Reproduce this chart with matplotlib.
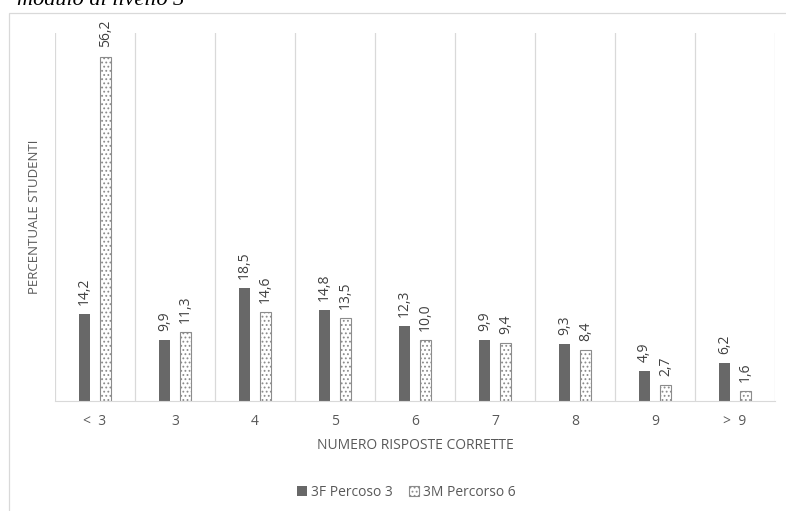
import matplotlib.pyplot as plt
from matplotlib.patches import Rectangle
import numpy as np

# categorie e valori (percentuali)
categorie = ['<  3', '3', '4', '5', '6', '7', '8', '9', '>  9']
percorso3 = [14.2, 9.9, 18.5, 14.8, 12.3, 9.9, 9.3, 4.9, 6.2]
percorso6 = [56.2, 11.3, 14.6, 13.5, 10.0, 9.4, 8.4, 2.7, 1.6]
serie = ['3F Percoso 3', '3M Percorso 6']

plt.rcParams['font.family'] = ['Open Sans', 'DejaVu Sans']
plt.rcParams['hatch.color'] = '#8c8c8c'
plt.rcParams['hatch.linewidth'] = 0.8
testo = '#595959'

fig = plt.figure(figsize=(7.86, 5.11), dpi=100)
ax = fig.add_axes([0.070, 0.215, 0.916, 0.72])

x = np.arange(len(categorie))
w = 0.14
b1 = ax.bar(x - 0.13, percorso3, w, color='#686868', label=serie[0])
b2 = ax.bar(x + 0.13, percorso6, w, color='white', edgecolor='#8c8c8c',
            hatch='....', linewidth=0.8, label=serie[1])

for barre, valori in ((b1, percorso3), (b2, percorso6)):
    for b, v in zip(barre, valori):
        ax.annotate(f'{v:.1f}'.replace('.', ','),
                    (b.get_x() + b.get_width() / 2, v),
                    xytext=(0, 6.5), textcoords='offset points',
                    rotation=90, ha='center', va='bottom',
                    fontsize=10, color='#404040')

ax.set_xlim(-0.5, len(categorie) - 0.5)
ax.set_ylim(0, 60)
ax.set_yticks([])
ax.set_xticks(x)
ax.set_xticklabels(categorie, fontsize=10, color=testo)
ax.tick_params(axis='x', length=0, pad=9)
for xv in np.arange(-0.5, len(categorie), 1):
    ax.axvline(xv, color='#d9d9d9', lw=0.9, zorder=0)
for s in ['top', 'right', 'left']:
    ax.spines[s].set_visible(False)
ax.spines['bottom'].set_color('#d9d9d9')

ax.set_xlabel('NUMERO RISPOSTE CORRETTE', fontsize=10, color=testo, labelpad=7)
ax.set_ylabel('PERCENTUALE STUDENTI', fontsize=9.5, color=testo, labelpad=10)

fig.legend(handles=[b1, b2], loc='center', bbox_to_anchor=(0.517, 0.037),
           ncol=2, frameon=False, fontsize=10, handlelength=0.7,
           handleheight=0.7, handletextpad=0.3, columnspacing=1.2,
           labelcolor=testo)

# cornice del grafico
fig.patches.append(Rectangle((0.011, -0.01), 0.99, 0.985,
                             transform=fig.transFigure, fill=False,
                             edgecolor='#d9d9d9', lw=0.9))

# didascalia sopra il grafico (tagliata dal bordo superiore)
fig.text(0.235, 0.991, 'modulo di livello 3', fontsize=16, style='italic',
         family='Liberation Serif', va='baseline', ha='right', color='black')

fig.savefig('out.png', dpi=100)
